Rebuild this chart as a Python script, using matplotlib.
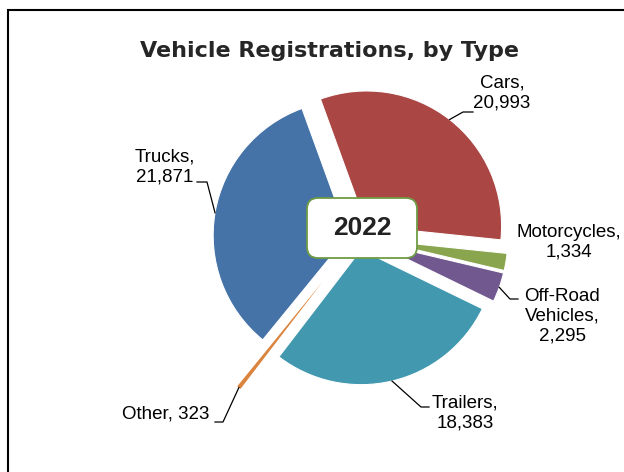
"""Pie chart of vehicle registrations by type for 2022."""

import matplotlib.pyplot as plt
from matplotlib.patches import FancyBboxPatch, Rectangle
import numpy as np

categories = ["Cars", "Motorcycles", "Off-Road Vehicles", "Trailers", "Other", "Trucks"]
registrations = [20993, 1334, 2295, 18383, 323, 21871]
year_label = "2022"
chart_title = "Vehicle Registrations, by Type"

colors = ["#AA4643", "#89A54E", "#71588F", "#4198AF", "#DB843D", "#4572A7"]
explode_px = [14, 15, 15, 13, 57, 10]

W, H = 624, 472
CENTER = (358, H - 237)
RADIUS = 135

# label centre and leader elbow/end points, pixels from the top-left corner
label_text = {
    "Cars": "Cars,\n{v}",
    "Motorcycles": "Motorcycles,\n{v}",
    "Off-Road Vehicles": "Off-Road\nVehicles,\n{v}",
    "Trailers": "Trailers,\n{v}",
    "Other": "Other, {v}",
    "Trucks": "Trucks,\n{v}",
}
label_layout = {
    "Cars": ((502, 93), [(463, 112), (473, 112)]),
    "Motorcycles": ((569, 242), None),
    "Off-Road Vehicles": ((562, 316), [(510, 299), (518, 299)]),
    "Trailers": ((465, 413), [(421, 407), (429, 407)]),
    "Other": ((166, 414), [(223, 422), (215, 422)]),
    "Trucks": ((165, 167), [(207, 182), (197, 182)]),
}


def px(point):
    return point[0], H - point[1]


def main() -> None:
    fig = plt.figure(figsize=(W / 100, H / 100), dpi=100)
    ax = fig.add_axes([0, 0, 1, 1])

    wedges, _ = ax.pie(
        registrations,
        colors=colors,
        explode=explode_px,
        startangle=110,
        counterclock=False,
        radius=RADIUS,
        center=CENTER,
        wedgeprops=dict(edgecolor="white", linewidth=0.8),
    )
    # the sliver is too thin to carry a white outline
    wedges[categories.index("Other")].set_edgecolor("none")
    ax.set_xlim(0, W)
    ax.set_ylim(0, H)
    ax.axis("off")

    for wedge, cat, value in zip(wedges, categories, registrations):
        (tx, ty), leader = label_layout[cat]
        ax.text(tx, H - ty, label_text[cat].format(v=f"{value:,}"),
                ha="center", va="center", fontsize=13.5,
                family="Liberation Sans", linespacing=1.2)
        if leader is None:
            continue
        mid = np.deg2rad((wedge.theta1 + wedge.theta2) / 2)
        start = (wedge.center[0] + wedge.r * np.cos(mid),
                 wedge.center[1] + wedge.r * np.sin(mid))
        pts = [start] + [px(p) for p in leader]
        xs, ys = zip(*pts)
        ax.plot(xs, ys, color="black", lw=0.9)

    box = FancyBboxPatch((307, H - 258), 110, 60,
                         boxstyle="round,pad=0,rounding_size=11",
                         facecolor="white", edgecolor="#6E9C45", lw=1.3, zorder=5)
    ax.add_patch(box)
    ax.text(362, H - 228, year_label, ha="center", va="center",
            fontsize=19, fontweight="bold", family="Liberation Sans",
            color="#222222", zorder=6)

    ax.text(329, H - 51, chart_title, ha="center", va="center",
            fontsize=16, fontweight="bold", color="#262626")

    fig.add_artist(Rectangle((8 / W, -0.1), 1.2, 1.1 - 10 / H,
                             transform=fig.transFigure, fill=False,
                             edgecolor="black", lw=1.5))

    fig.savefig("out.png", dpi=100)
    plt.close(fig)


if __name__ == "__main__":
    main()
